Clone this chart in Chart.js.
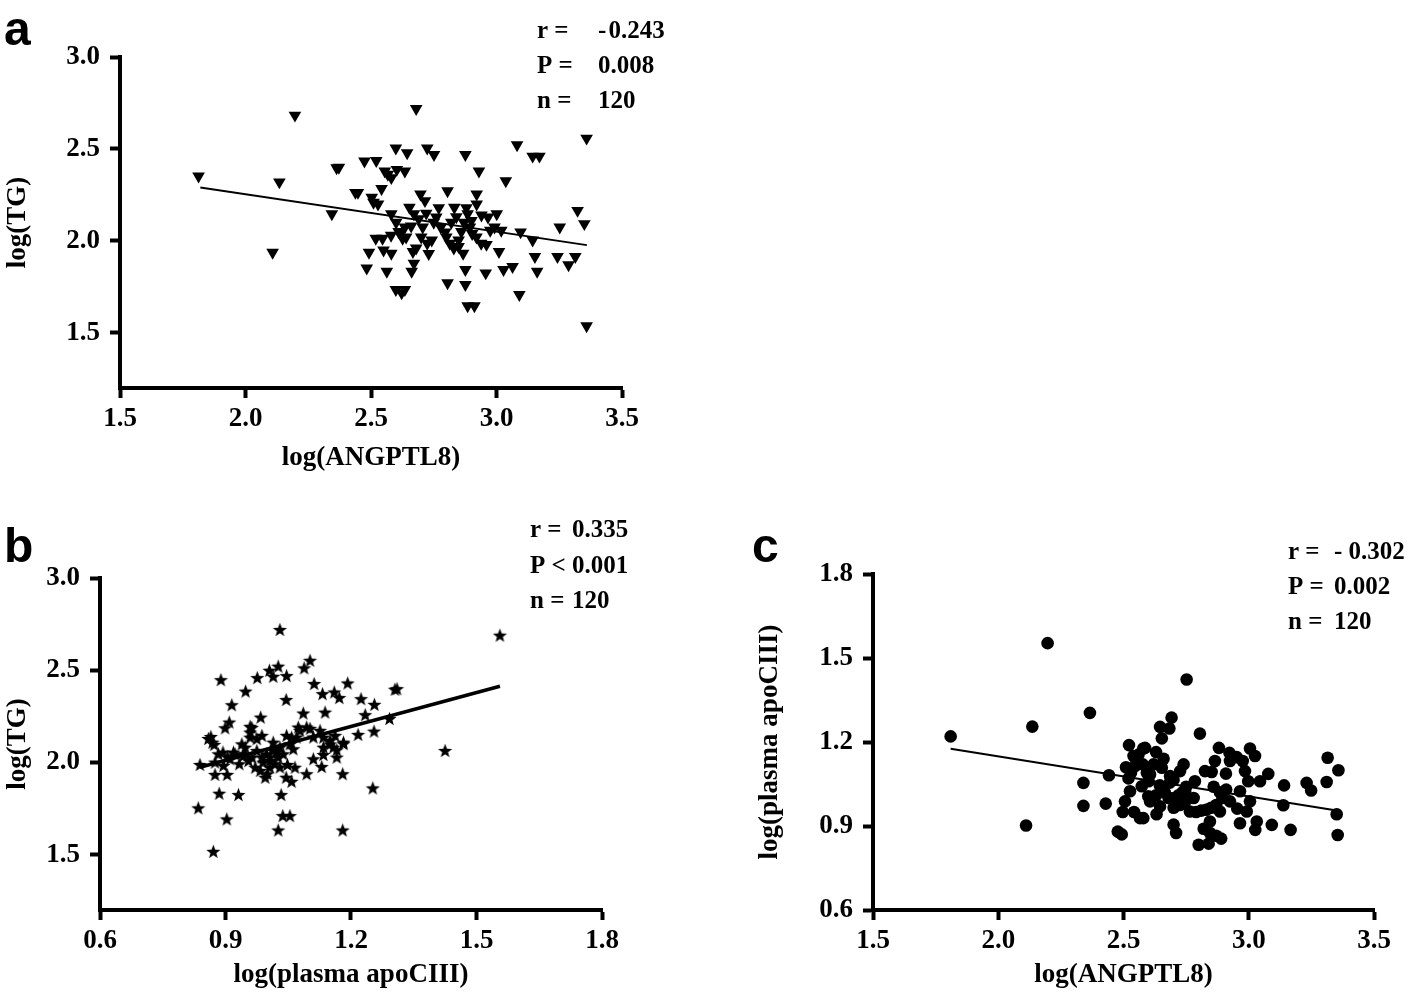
<!DOCTYPE html>
<html>
<head>
<meta charset="utf-8">
<script src="https://cdn.jsdelivr.net/npm/chart.js@4.4.1/dist/chart.umd.min.js"></script>
<style>
  html, body { margin:0; padding:0; background:#fff; }
  #wrap { position:relative; width:1418px; height:993px; background:#fff; overflow:hidden; }
  canvas { position:absolute; }
</style>
</head>
<body>
<div id="wrap">
  <canvas id="ca" width="700" height="490" style="left:0px;top:0px;width:700px;height:490px"></canvas>
  <canvas id="cb" width="700" height="493" style="left:0px;top:500px;width:700px;height:493px"></canvas>
  <canvas id="cc" width="698" height="493" style="left:720px;top:500px;width:698px;height:493px"></canvas>
</div>
<script>
// ---------- Panel a: log(ANGPTL8) vs log(TG) ----------
const aX = [1.813,2.135,2.197,2.108,2.344,2.363,2.372,2.438,2.448,2.474,2.521,2.503,2.51,2.528,2.483,2.492,2.519,2.546,2.542,2.555,
  2.567,2.581,2.599,2.581,2.563,2.581,2.599,2.622,2.635,2.603,2.644,2.635,2.653,2.617,2.635,2.626,2.671,2.667,2.671,2.662,
  2.680,2.697,2.715,2.706,2.724,2.751,2.724,2.742,2.760,2.778,2.805,2.796,2.814,2.832,2.849,2.849,2.867,2.805,2.876,2.876,
  2.876,2.885,2.912,2.885,2.894,2.903,2.921,2.921,2.930,2.939,2.957,2.966,2.975,2.992,3.001,3.010,3.019,3.028,3.037,3.064,
  3.082,3.091,3.096,3.144,3.171,3.144,3.153,3.162,3.243,3.252,3.287,3.314,3.323,3.350,3.359,3.359,
  2.60,2.61,2.64,2.66,2.69,2.70,2.72,2.75,2.77,2.80,2.82,2.84,2.86,2.88,2.90,2.92,2.94,2.96,2.58,2.55,2.68,2.73,2.83,2.87];
const aY = [2.352,2.32,2.683,1.937,2.147,2.397,2.40,2.263,2.263,2.433,2.436,2.236,2.209,2.20,1.852,1.937,2.013,2.013,2.284,2.379,
  2.361,2.343,2.504,2.147,1.834,1.932,1.735,1.717,1.735,2.388,2.478,2.379,2.182,2.039,2.075,2.013,2.147,1.941,1.878,1.834,
  2.719,2.254,2.218,2.075,2.504,2.469,1.986,2.004,2.129,2.075,2.272,2.048,1.986,2.182,2.004,1.968,1.932,1.771,2.469,1.843,
  1.762,1.646,1.646,2.147,2.075,2.039,2.254,2.2,2.379,1.986,1.825,2.129,2.057,2.075,2.147,1.941,2.057,1.843,2.326,1.86,
  2.522,1.708,2.048,2.46,2.46,2.004,1.914,1.834,1.914,2.075,1.869,1.914,2.165,2.093,2.558,1.538,
  2.10,2.05,2.02,2.08,2.12,2.02,2.15,2.10,2.18,2.02,2.10,2.13,2.05,2.18,2.11,2.02,2.14,1.98,2.03,1.95,1.96,1.93,1.96,2.10];
const aFitX = [1.82, 3.36];
const aFitY = [2.29, 1.977];
const xTicksA = [1.5, 2.0, 2.5, 3.0, 3.5];
const yTicksA = [1.5, 2.0, 2.5, 3.0];
const xTitleA = 'log(ANGPTL8)';
const yTitleA = 'log(TG)';
const statLabelsA = ['r =', 'P =', 'n ='];
const statValuesA = ['-\u200A0.243', '0.008', '120'];

// ---------- Panel b: log(plasma apoCIII) vs log(TG) ----------
const bX = [1.030,0.889,0.948,0.915,0.976,1.005,1.026,1.014,1.046,1.102,1.088,1.112,1.132,1.045,1.160,1.172,1.192,1.224,1.256,1.305,
  1.310,1.234,1.292,1.255,1.217,1.138,1.086,0.984,0.909,0.899,0.959,0.865,0.873,0.839,0.875,0.875,0.904,0.885,0.931,0.835,
  0.903,0.871,1.033,1.037,1.054,1.026,1.180,1.180,1.252,1.094,1.130,1.110,1.134,1.166,1.182,1.162,1.134,1.150,1.094,1.102,
  1.078,1.058,1.062,1.066,1.048,1.058,1.045,1.026,1.018,1.030,1.000,0.995,1.006,0.983,0.971,0.987,0.975,0.947,0.943,0.933,
  0.955,0.919,0.894,0.905,0.959,0.975,0.963,0.987,0.959,1.014,1.022,1.006,1.556,1.425,
  1.134,1.150,1.158,1.166,1.182,1.110,1.126,1.070,1.054,1.030,1.038,1.014,0.998,0.990,0.963,0.947,0.939,0.923,0.911,0.895,
  0.883,0.869,0.859,1.074,1.046,1.006];
const bY = [2.721,2.449,2.387,2.313,2.46,2.50,2.522,2.467,2.471,2.554,2.513,2.428,2.373,2.341,2.382,2.352,2.431,2.346,2.315,2.397,
  2.40,2.259,2.238,2.17,2.152,2.273,2.268,2.246,2.219,2.188,2.196,2.141,2.098,1.989,2.002,1.935,1.935,1.833,1.826,1.754,
  1.694,1.518,1.826,1.712,1.712,1.634,1.634,1.939,1.862,1.939,1.978,2.020,2.043,2.069,2.102,2.147,2.137,2.10,2.192,2.185,
  2.174,2.137,2.074,1.974,1.989,1.898,1.92,2.029,1.993,1.975,1.939,1.920,1.974,1.957,1.974,2.029,2.065,2.083,2.038,1.993,
  2.01,2.056,2.056,2.03,2.137,2.129,2.19,2.147,2.165,2.065,2.058,2.03,2.690,2.065,
  2.083,2.120,2.083,2.029,2.110,2.138,2.174,2.138,2.101,2.083,2.047,2.11,2.047,2.002,2.029,2.047,2.101,2.047,2.02,1.984,
  2.047,2.11,2.13,2.192,2.147,2.011];
const bFitX = [0.839, 1.556];
const bFitY = [1.974, 2.413];
const xTicksB = [0.6, 0.9, 1.2, 1.5, 1.8];
const yTicksB = [1.5, 2.0, 2.5, 3.0];
const xTitleB = 'log(plasma apoCIII)';
const yTitleB = 'log(TG)';
const statLabelsB = ['r =', 'P <', 'n ='];
const statValuesB = ['0.335', '0.001', '120'];

// ---------- Panel c: log(ANGPTL8) vs log(plasma apoCIII) ----------
const cX = [2.197,1.810,2.136,2.366,2.111,2.340,2.340,2.429,2.442,2.497,2.477,2.493,2.542,2.566,2.522,2.579,2.54,2.55,2.56,2.51,
  2.53,2.52,2.573,2.599,2.593,2.752,2.692,2.646,2.683,2.653,2.805,2.586,2.630,2.653,2.606,2.577,2.881,2.923,2.952,2.976,
  3.005,2.852,2.909,2.998,3.078,3.141,3.231,3.249,3.311,3.315,3.358,3.351,3.355,3.138,3.167,3.092,3.032,3.026,2.965,2.954,
  2.992,2.885,2.91,2.895,2.87,2.85,2.83,2.79,2.81,2.82,2.845,2.87,2.89,2.80,2.84,2.70,2.71,2.632,2.579,2.75,
  2.735,2.72,2.70,2.745,2.725,2.70,2.68,2.665,2.63,2.645,2.70,2.685,
  2.686,2.726,2.746,2.785,2.825,2.865,2.925,2.965,3.005,3.045,2.526,2.506,2.546,2.606,2.646,2.706,2.765,2.845,2.885,2.985,
  3.025,2.925,2.60,2.62,2.66,2.74,2.78,2.86];
const cY = [1.553,1.220,1.255,1.304,0.902,1.054,0.972,0.980,1.081,0.950,0.880,0.870,0.950,0.928,1.189,1.177,1.15,1.14,1.155,1.11,
  1.09,1.07,1.042,1.006,1.090,1.423,1.287,1.254,1.248,1.213,1.230,1.179,1.164,1.108,1.084,1.120,1.179,1.161,1.146,1.132,
  1.177,1.093,1.087,1.060,1.086,1.045,1.054,1.027,1.057,1.144,1.099,0.942,0.868,0.974,0.886,0.904,0.916,0.886,0.910,0.962,
  0.952,1.02,1.03,1.00,0.975,0.965,0.958,0.95,0.955,0.89,0.875,0.865,0.855,0.833,0.837,0.905,0.875,0.942,0.928,1.04,
  1.02,1.01,1.0,0.985,0.975,0.965,1.0,1.02,1.01,1.045,1.065,1.055,
  1.078,1.096,1.024,1.060,1.096,1.132,0.988,1.024,0.988,1.060,1.024,0.988,1.114,0.988,0.970,0.970,0.952,0.916,0.952,1.096,
  1.150,1.132,1.06,1.12,1.14,1.12,1.0,1.04];
const cFitX = [1.81, 3.351];
const cFitY = [1.176, 0.955];
const xTicksC = [1.5, 2.0, 2.5, 3.0, 3.5];
const yTicksC = [0.6, 0.9, 1.2, 1.5, 1.8];
const xTitleC = 'log(ANGPTL8)';
const yTitleC = 'log(plasma apoCIII)';
const statLabelsC = ['r =', 'P =', 'n ='];
const statValuesC = ['- 0.302', '0.002', '120'];

const panelLetters = ['a', 'b', 'c'];

// ---------- helpers ----------
const SERIF = "'Times New Roman', 'Liberation Serif', serif";
const tickFont = { family: SERIF, weight: 'bold', size: 27, lineHeight: 1.2 };
const titleFont = { family: SERIF, weight: 'bold', size: 27, lineHeight: 1.2 };

function pts(xs, ys) { return xs.map((x, i) => ({ x: x, y: ys[i] })); }

function starImage(R, r) {
  const s = Math.ceil(R * 2) + 2;
  const c = document.createElement('canvas');
  c.width = s; c.height = s;
  const g = c.getContext('2d');
  g.translate(s / 2, s / 2 + R * 0.1);
  g.beginPath();
  for (let i = 0; i < 10; i++) {
    const rad = (i % 2) ? r : R;
    const ang = -Math.PI / 2 + i * Math.PI / 5;
    g.lineTo(rad * Math.cos(ang), rad * Math.sin(ang));
  }
  g.closePath();
  g.fillStyle = '#000';
  g.fill();
  return c;
}

const statsPlugin = {
  id: 'statsText',
  afterDraw(chart, args, o) {
    const ctx = chart.ctx;
    ctx.save();
    ctx.fillStyle = '#000';
    ctx.textBaseline = 'alphabetic';
    ctx.textAlign = 'left';
    ctx.font = 'bold 25px ' + SERIF;
    o.labels.forEach((t, i) => {
      ctx.fillText(t, o.x0, o.y0 + i * o.dy);
      ctx.fillText(o.values[i], o.x1, o.y0 + i * o.dy);
    });
    ctx.font = 'bold 48px "Liberation Sans", Arial, sans-serif';
    ctx.fillText(o.letter, o.lx, o.ly);
    ctx.restore();
  }
};

function axis(min, max, tickVals, title, fitSize, isX, titlePad) {
  const cfg = {
    type: 'linear',
    min: min, max: max,
    afterBuildTicks: s => { s.ticks = tickVals.map(v => ({ value: v })); },
    ticks: {
      callback: v => Number(v).toFixed(1),
      font: tickFont, color: '#000',
      padding: isX ? 5 : 10,
      maxRotation: 0, autoSkip: false
    },
    grid: { display: true, drawOnChartArea: false, drawTicks: true, tickLength: 10, tickWidth: 4, tickColor: '#000' },
    border: { display: true, color: '#000', width: 4 },
    title: { display: true, text: title, font: titleFont, color: '#000', padding: titlePad }
  };
  if (isX) cfg.afterFit = s => { s.height = fitSize; };
  else cfg.afterFit = s => { s.width = fitSize; };
  return cfg;
}

function makeChart(id, spec) {
  return new Chart(document.getElementById(id), {
    type: 'scatter',
    data: {
      datasets: [
        {
          data: spec.points,
          pointStyle: spec.pointStyle,
          rotation: spec.rotation || 0,
          pointRadius: spec.radius,
          pointHoverRadius: spec.radius,
          backgroundColor: '#000',
          borderColor: '#000',
          pointBorderWidth: spec.pointBorder || 0,
          clip: false,
          order: 2
        },
        {
          data: spec.fit,
          showLine: true,
          pointRadius: 0,
          borderColor: '#000',
          borderWidth: spec.fitWidth,
          fill: false,
          clip: false,
          order: 1
        }
      ]
    },
    options: {
      responsive: false,
      animation: false,
      devicePixelRatio: 1,
      layout: { padding: spec.padding },
      plugins: {
        legend: { display: false },
        tooltip: { enabled: false },
        statsText: spec.stats
      },
      scales: {
        x: axis(spec.xmin, spec.xmax, spec.xTicks, spec.xTitle, spec.xFit, true, { top: 0, bottom: spec.xTitlePad }),
        y: axis(spec.ymin, spec.ymax, spec.yTicks, spec.yTitle, spec.yFit, false, { top: spec.yTitlePad, bottom: 0 })
      }
    },
    plugins: [statsPlugin]
  });
}

// Panel a
makeChart('ca', {
  points: pts(aX, aY), pointStyle: 'triangle', rotation: 180, radius: 7.3,
  fit: pts(aFitX, aFitY), fitWidth: 2,
  xmin: 1.5, xmax: 3.5, ymin: 1.2, ymax: 3.0,
  xTicks: xTicksA, yTicks: yTicksA, xTitle: xTitleA, yTitle: yTitleA,
  padding: { left: 0, top: 57, right: 78, bottom: 0 },
  xFit: 102, yFit: 120, xTitlePad: 16, yTitlePad: 2,
  stats: { labels: statLabelsA, values: statValuesA, x0: 537, x1: 598, y0: 38, dy: 35, letter: panelLetters[0], lx: 4, ly: 45 }
});

// Panel b
makeChart('cb', {
  points: pts(bX, bY), pointStyle: starImage(7.4, 3.1), radius: 6.5,
  fit: pts(bFitX, bFitY), fitWidth: 3.5,
  xmin: 0.6, xmax: 1.8, ymin: 1.2, ymax: 3.0,
  xTicks: xTicksB, yTicks: yTicksB, xTitle: xTitleB, yTitle: yTitleB,
  padding: { left: 0, top: 78, right: 98, bottom: 0 },
  xFit: 83, yFit: 100, xTitlePad: 2, yTitlePad: 2,
  stats: { labels: statLabelsB, values: statValuesB, x0: 530, x1: 572, y0: 37, dy: 35.5, letter: panelLetters[1], lx: 4, ly: 62 }
});

// Panel c
makeChart('cc', {
  points: pts(cX, cY), pointStyle: 'circle', radius: 6.3,
  fit: pts(cFitX, cFitY), fitWidth: 2,
  xmin: 1.5, xmax: 3.5, ymin: 0.6, ymax: 1.8,
  xTicks: xTicksC, yTicks: yTicksC, xTitle: xTitleC, yTitle: yTitleC,
  padding: { left: 0, top: 74, right: 44, bottom: 0 },
  xFit: 83, yFit: 153, xTitlePad: 2, yTitlePad: 34,
  stats: { labels: statLabelsC, values: statValuesC, x0: 568, x1: 614, y0: 59, dy: 35, letter: panelLetters[2], lx: 32, ly: 62 }
});
</script>
</body>
</html>
